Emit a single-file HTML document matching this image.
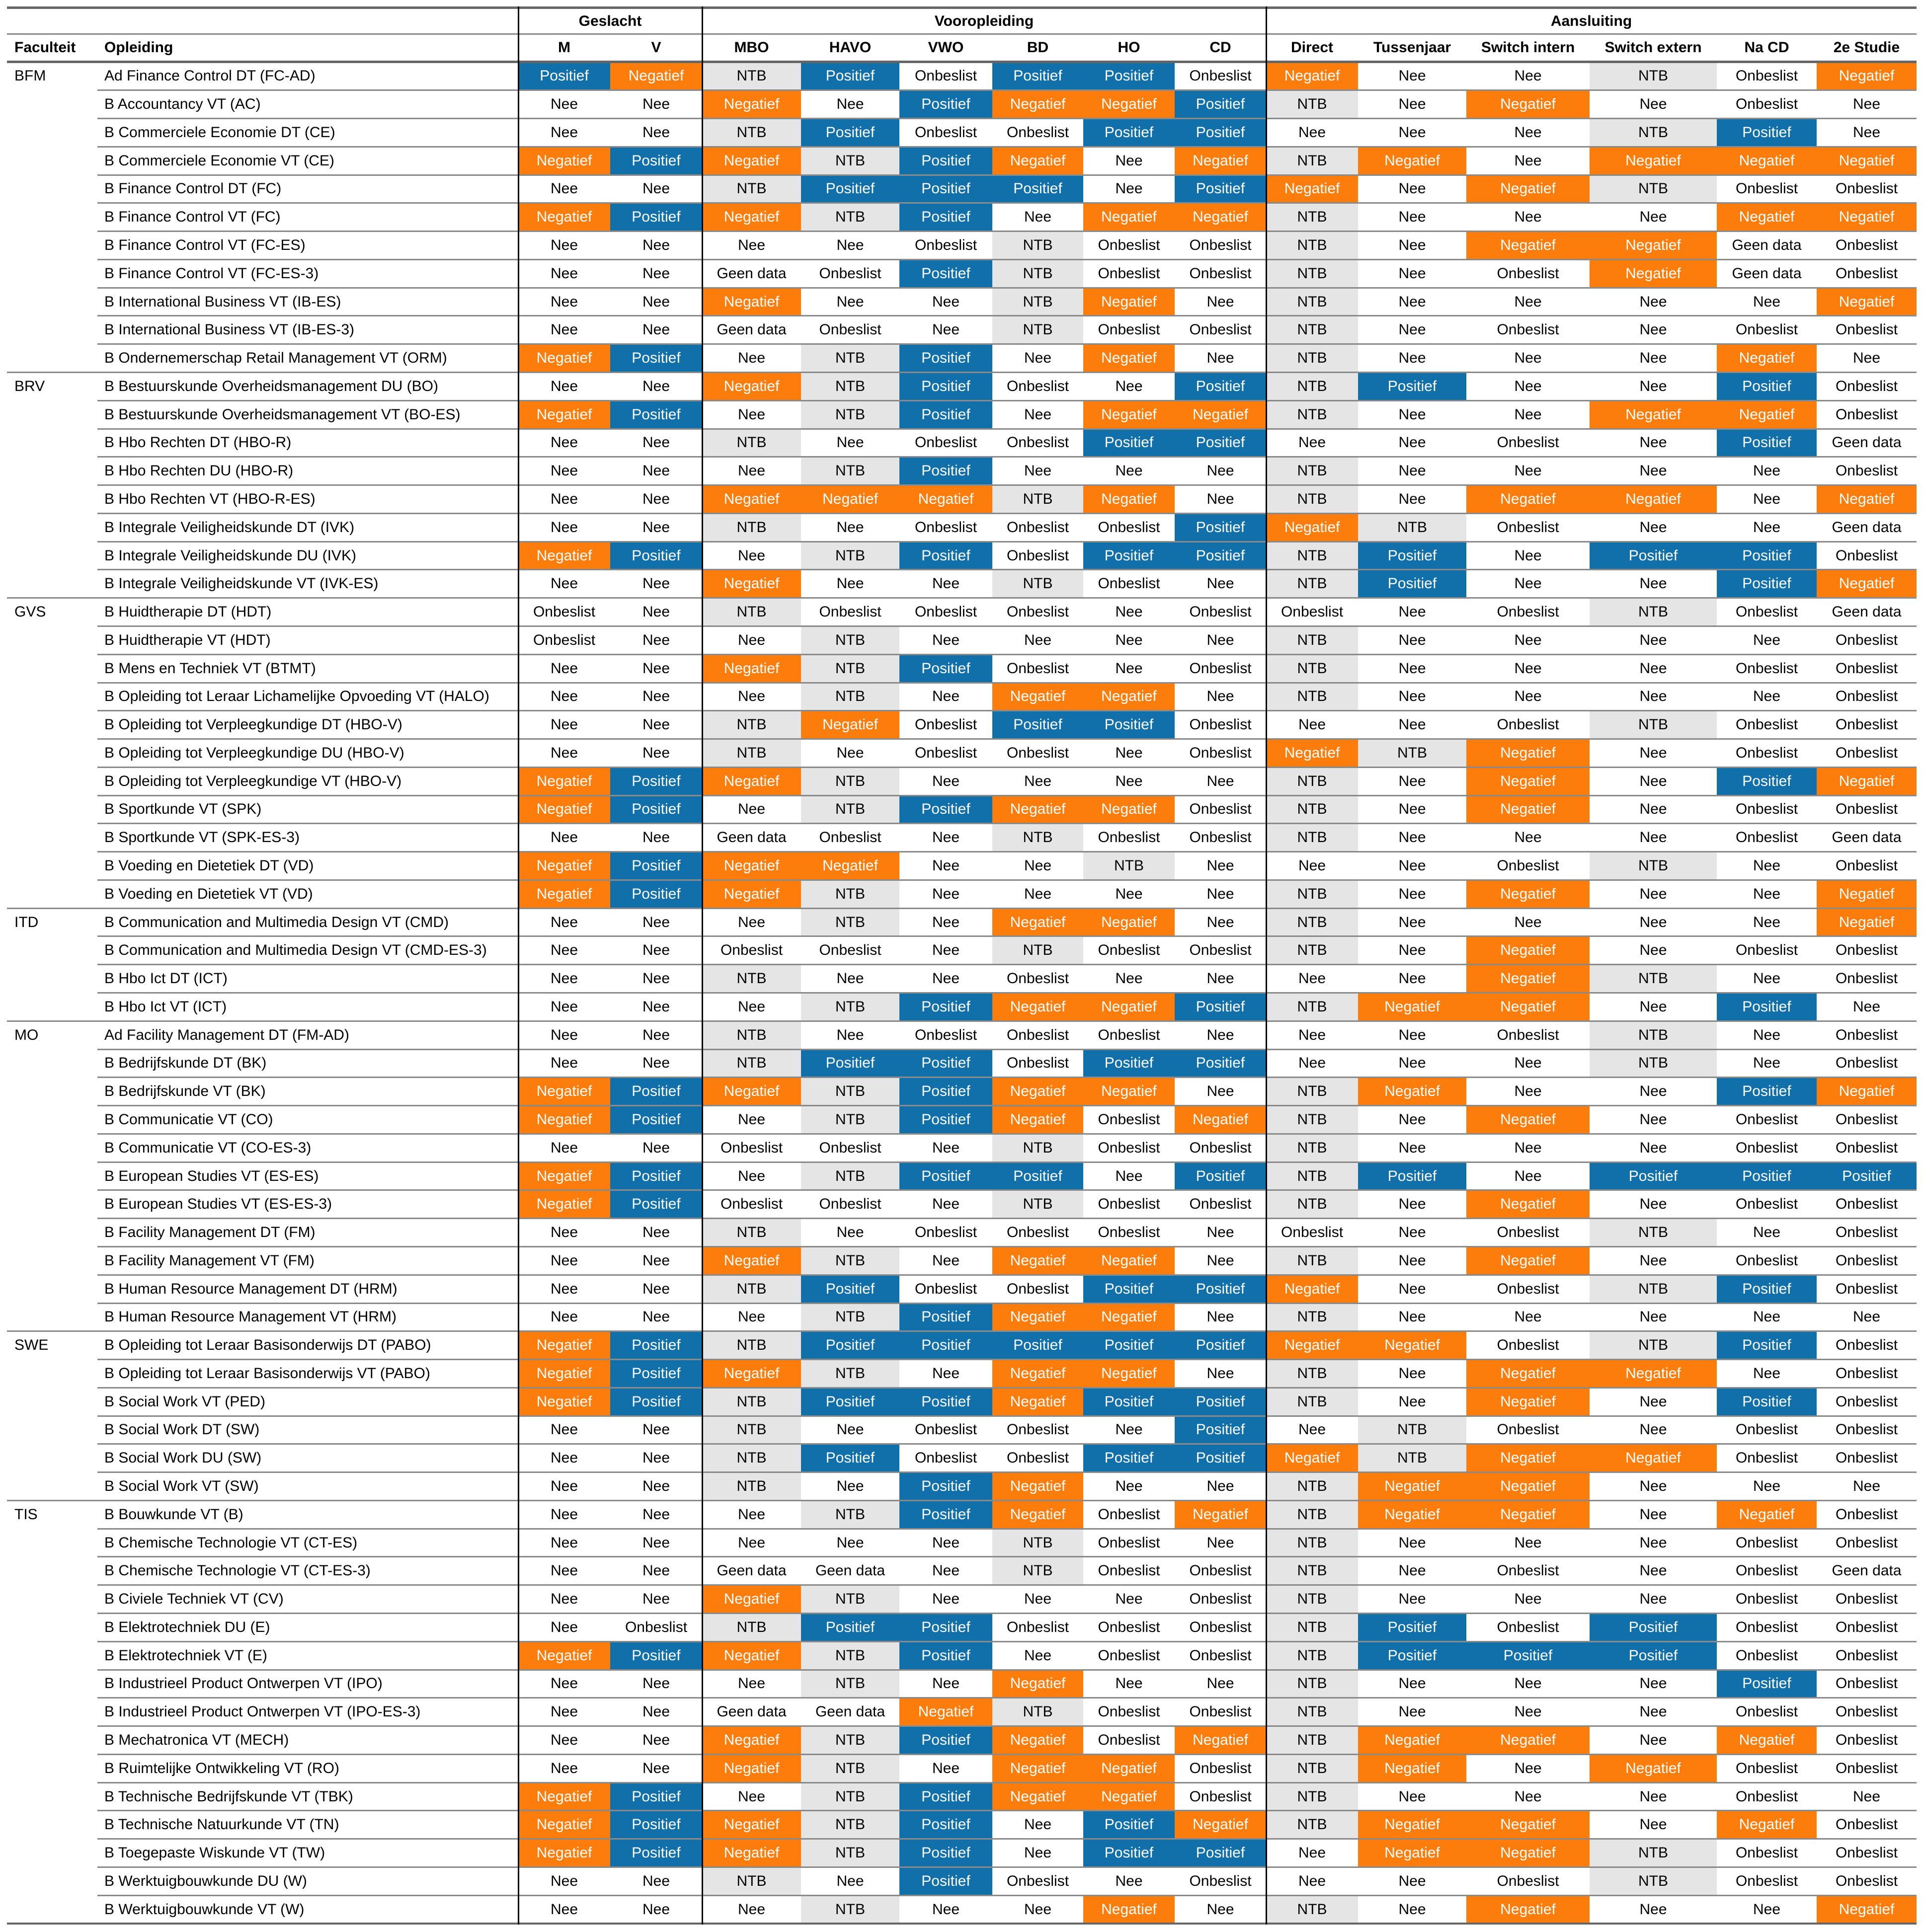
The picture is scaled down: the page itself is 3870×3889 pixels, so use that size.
<!DOCTYPE html>
<html><head><meta charset="utf-8">
<style>
html,body{margin:0;padding:0;background:#fff;}
#root{position:relative;width:3870px;height:3889px;overflow:hidden;font-family:"Liberation Sans",Arial,sans-serif;font-size:30px;color:#000;}
.c{position:absolute;display:flex;align-items:center;justify-content:center;white-space:nowrap;box-sizing:border-box;}
.l{position:absolute;white-space:nowrap;display:flex;align-items:center;}
.h{font-weight:bold;}
.hl{position:absolute;}
</style></head>
<body>
<div id="root"></div>
<script>
const groups = ["Geslacht","Vooropleiding","Aansluiting"];
const columns = ["M","V","MBO","HAVO","VWO","BD","HO","CD","Direct","Tussenjaar","Switch intern","Switch extern","Na CD","2e Studie"];
const faculties = ["BFM","BRV","GVS","ITD","MO","SWE","TIS"];
const facultyCounts = [11,8,11,4,11,6,15];
const programs = [
"Ad Finance Control DT (FC-AD)","B Accountancy VT (AC)","B Commerciele Economie DT (CE)","B Commerciele Economie VT (CE)","B Finance Control DT (FC)","B Finance Control VT (FC)","B Finance Control VT (FC-ES)","B Finance Control VT (FC-ES-3)","B International Business VT (IB-ES)","B International Business VT (IB-ES-3)","B Ondernemerschap Retail Management VT (ORM)",
"B Bestuurskunde Overheidsmanagement DU (BO)","B Bestuurskunde Overheidsmanagement VT (BO-ES)","B Hbo Rechten DT (HBO-R)","B Hbo Rechten DU (HBO-R)","B Hbo Rechten VT (HBO-R-ES)","B Integrale Veiligheidskunde DT (IVK)","B Integrale Veiligheidskunde DU (IVK)","B Integrale Veiligheidskunde VT (IVK-ES)",
"B Huidtherapie DT (HDT)","B Huidtherapie VT (HDT)","B Mens en Techniek VT (BTMT)","B Opleiding tot Leraar Lichamelijke Opvoeding VT (HALO)","B Opleiding tot Verpleegkundige DT (HBO-V)","B Opleiding tot Verpleegkundige DU (HBO-V)","B Opleiding tot Verpleegkundige VT (HBO-V)","B Sportkunde VT (SPK)","B Sportkunde VT (SPK-ES-3)","B Voeding en Dietetiek DT (VD)","B Voeding en Dietetiek VT (VD)",
"B Communication and Multimedia Design VT (CMD)","B Communication and Multimedia Design VT (CMD-ES-3)","B Hbo Ict DT (ICT)","B Hbo Ict VT (ICT)",
"Ad Facility Management DT (FM-AD)","B Bedrijfskunde DT (BK)","B Bedrijfskunde VT (BK)","B Communicatie VT (CO)","B Communicatie VT (CO-ES-3)","B European Studies VT (ES-ES)","B European Studies VT (ES-ES-3)","B Facility Management DT (FM)","B Facility Management VT (FM)","B Human Resource Management DT (HRM)","B Human Resource Management VT (HRM)",
"B Opleiding tot Leraar Basisonderwijs DT (PABO)","B Opleiding tot Leraar Basisonderwijs VT (PABO)","B Social Work VT (PED)","B Social Work DT (SW)","B Social Work DU (SW)","B Social Work VT (SW)",
"B Bouwkunde VT (B)","B Chemische Technologie VT (CT-ES)","B Chemische Technologie VT (CT-ES-3)","B Civiele Techniek VT (CV)","B Elektrotechniek DU (E)","B Elektrotechniek VT (E)","B Industrieel Product Ontwerpen VT (IPO)","B Industrieel Product Ontwerpen VT (IPO-ES-3)","B Mechatronica VT (MECH)","B Ruimtelijke Ontwikkeling VT (RO)","B Technische Bedrijfskunde VT (TBK)","B Technische Natuurkunde VT (TN)","B Toegepaste Wiskunde VT (TW)","B Werktuigbouwkunde DU (W)","B Werktuigbouwkunde VT (W)"];
// P=Positief N=Negatief E=Nee T=NTB O=Onbeslist G=Geen data
const cells = [
"PNTPOPPONEETON","EENEPNNPTENEOE","EETPOOPPEEETPE","NPNTPNENTNENNN","EETPPPEPNENTOO","NPNTPENNTEEENN","EEEEOTOOTENNGO","EEGOPTOOTEONGO","EENEETNETEEEEN","EEGOETOOTEOEOO","NPETPENETEEENE",
"EENTPOEPTPEEPO","NPETPENNTEENNO","EETEOOPPEEOEPG","EEETPEEETEEEEO","EENNNTNETENNEN","EETEOOOPNTOEEG","NPETPOPPTPEPPO","EENEETOETPEEPN",
"OETOOOEOOEOTOG","OEETEEEETEEEEO","EENTPOEOTEEEOO","EEETENNETEEEEO","EETNOPPOEEOTOO","EETEOOEONTNEOO","NPNTEEEETENEPN","NPETPNNOTENEOO","EEGOETOOTEEEOG","NPNNEETEEEOTEO","NPNTEEEETENEEN",
"EEETENNETEEEEN","EEOOETOOTENEOO","EETEEOEEEENTEO","EEETPNNPTNNEPE",
"EETEOOOEEEOTEO","EETPPOPPEEETEO","NPNTPNNETNEEPN","NPETPNONTENEOO","EEOOETOOTEEEOO","NPETPPEPTPEPPP","NPOOETOOTENEOO","EETEOOOEOEOTEO","EENTENNETENEOO","EETPOOPPNEOTPO","EEETPNNETEEEEE",
"NPTPPPPPNNOTPO","NPNTENNETENNEO","NPTPPNPPTENEPO","EETEOOEPETOEOO","EETPOOPPNTNNOO","EETEPNEETNNEEE",
"EEETPNONTNNENO","EEEEETOETEEEOO","EEGGETOOTEOEOG","EENTEEEOTEEEOO","EOTPPOOOTPOPOO","NPNTPEOOTPPPOO","EEETENEETEEEPO","EEGGNTOOTEEEOO","EENTPNONTNNENO","EENTENNOTNENOO","NPETPNNOTEEEOE","NPNTPEPNTNNENO","NPNTPEPPENNTOO","EETEPOEOEEOTOO","EEETEENETENEEN"];
const labels = {P:"Positief",N:"Negatief",E:"Nee",T:"NTB",O:"Onbeslist",G:"Geen data"};
const fills = {P:"#1170aa",N:"#fc7d0b",T:"#e5e5e5",E:"#fff",O:"#fff",G:"#fff"};

const root = document.getElementById('root');
const colX = [1043,1228,1413,1612,1810,1997,2180,2364,2548,2733,2951,3199,3455,3656,3857];
const groupSpan = [[0,2],[2,8],[8,14]];
const top0 = 125, rowH = (3872-125)/66;
function rowY(i){return top0 + i*rowH;}
function add(cls, x, y, w, h, txt, extra){
  const d = document.createElement('div');
  d.className = cls;
  d.style.left = x+'px'; d.style.top = y+'px'; d.style.width = w+'px'; d.style.height = h+'px';
  if (txt !== undefined) d.textContent = txt;
  if (extra) Object.assign(d.style, extra);
  root.appendChild(d);
  return d;
}
programs.forEach((p, i) => {
  const y = rowY(i);
  const t = add('l', 210, y, 830, rowH, p);
  
  
  for (let j = 0; j < columns.length; j++) {
    const k = cells[i][j];
    const c = add('c', colX[j], y, colX[j+1]-colX[j], rowH, labels[k], {background: fills[k], color: (k==='P'||k==='N') ? '#fff' : '#000'});
    
    
  }
});
let acc = 0; const groupStarts = [];
facultyCounts.forEach(n => { groupStarts.push(acc); acc += n; });
for (let i = 1; i < programs.length; i++) {
  const isG = groupStarts.includes(i);
  const ln = add('hl', isG ? 14 : 196, rowY(i) - 1.5, isG ? 3843 : 3661, 3, undefined, {background: '#8a8a8a'});
  
  
}
faculties.forEach((f, i) => {
  const t = add('l', 29, rowY(groupStarts[i]), 160, rowH, f);
  
  
});
groups.forEach((g, i) => {
  const x0 = colX[groupSpan[i][0]], x1 = colX[groupSpan[i][1]];
  const t = add('c h', x0, 17, x1-x0, 51, g);
  
  
});
columns.forEach((c, j) => {
  const t = add('c h', colX[j], 70, colX[j+1]-colX[j], 52, c);
  
  
});
let t1 = add('l h', 29, 70, 170, 52, 'Faculteit');


let t2 = add('l h', 210, 70, 400, 52, 'Opleiding');


let a = add('hl', 14, 13, 3843, 5, undefined, {background: '#666'});


let b = add('hl', 14, 67, 3843, 3, undefined, {background: '#8a8a8a'});


let c2 = add('hl', 14, 122, 3843, 5, undefined, {background: '#666'});


let d = add('hl', 14, 3870, 3843, 4, undefined, {background: '#666'});


[1043, 1413, 2548].forEach(x => {
  const v = add('hl', x-1.5, 13, 3, 3861, undefined, {background: '#000'});
  
  
});
</script>
</body></html>
